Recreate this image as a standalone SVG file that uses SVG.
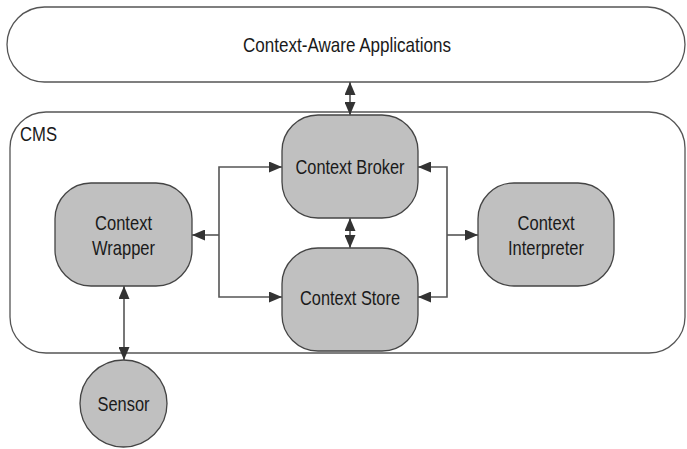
<svg xmlns="http://www.w3.org/2000/svg" width="687" height="449" viewBox="0 0 687 449">
<defs>
<style>
.box{fill:#fff;stroke:#555;stroke-width:1.3}
.node{fill:#c0c0c0;stroke:#444;stroke-width:1.3}
.t{font-family:"Liberation Sans Narrow","Arial Narrow","Liberation Sans",sans-serif;font-size:21px;fill:#1a1a1a;text-anchor:middle}
.c{fill:none;stroke:#555;stroke-width:1.6}
</style>
<marker id="ah" markerUnits="userSpaceOnUse" markerWidth="13" markerHeight="11" refX="13" refY="5.5" orient="auto-start-reverse" viewBox="0 0 13 11">
<path d="M0,0 L13,5.5 L0,11 z" fill="#333"/>
</marker>
</defs>
<rect width="687" height="449" fill="#fff"/>
<g id="apps">
<rect class="box" x="7" y="7" width="678" height="75" rx="37.5"/>
<text class="t" x="347" y="51.5" textLength="208" lengthAdjust="spacingAndGlyphs">Context-Aware Applications</text>
</g>
<g id="cms">
<rect class="box" x="10" y="112" width="675" height="241" rx="36"/>
<text class="t" x="20" y="140.5" style="text-anchor:start" textLength="37" lengthAdjust="spacingAndGlyphs">CMS</text>
</g>
<g id="broker">
<rect class="node" x="282" y="115" width="136" height="103" rx="36"/>
<text class="t" x="350" y="173.5" textLength="109" lengthAdjust="spacingAndGlyphs">Context Broker</text>
</g>
<g id="store">
<rect class="node" x="282" y="248" width="136" height="103" rx="36"/>
<text class="t" x="350" y="304.5" textLength="100" lengthAdjust="spacingAndGlyphs">Context Store</text>
</g>
<g id="wrapper">
<rect class="node" x="55" y="183" width="137" height="103" rx="36"/>
<text class="t" x="123.5" y="229.5" textLength="57" lengthAdjust="spacingAndGlyphs">Context</text>
<text class="t" x="123.5" y="254.5" textLength="63" lengthAdjust="spacingAndGlyphs">Wrapper</text>
</g>
<g id="interpreter">
<rect class="node" x="478" y="183" width="136" height="103" rx="36"/>
<text class="t" x="546" y="229.5" textLength="57" lengthAdjust="spacingAndGlyphs">Context</text>
<text class="t" x="546" y="254.5" textLength="76" lengthAdjust="spacingAndGlyphs">Interpreter</text>
</g>
<g id="sensor">
<circle class="node" cx="123.5" cy="403.5" r="43.5"/>
<text class="t" x="123.5" y="410.5" textLength="52" lengthAdjust="spacingAndGlyphs">Sensor</text>
</g>
<g id="connectors">
<line class="c" x1="350" y1="82" x2="350" y2="115" marker-start="url(#ah)" marker-end="url(#ah)"/>
<line class="c" x1="350" y1="218" x2="350" y2="248" marker-start="url(#ah)" marker-end="url(#ah)"/>
<line class="c" x1="124" y1="286" x2="124" y2="360" marker-start="url(#ah)" marker-end="url(#ah)"/>
<path class="c" d="M282,167 H219 V297 H282" marker-start="url(#ah)" marker-end="url(#ah)"/>
<line class="c" x1="219" y1="235" x2="192" y2="235" marker-end="url(#ah)"/>
<path class="c" d="M418,167 H447 V297 H418" marker-start="url(#ah)" marker-end="url(#ah)"/>
<line class="c" x1="447" y1="235" x2="478" y2="235" marker-end="url(#ah)"/>
</g>
</svg>
